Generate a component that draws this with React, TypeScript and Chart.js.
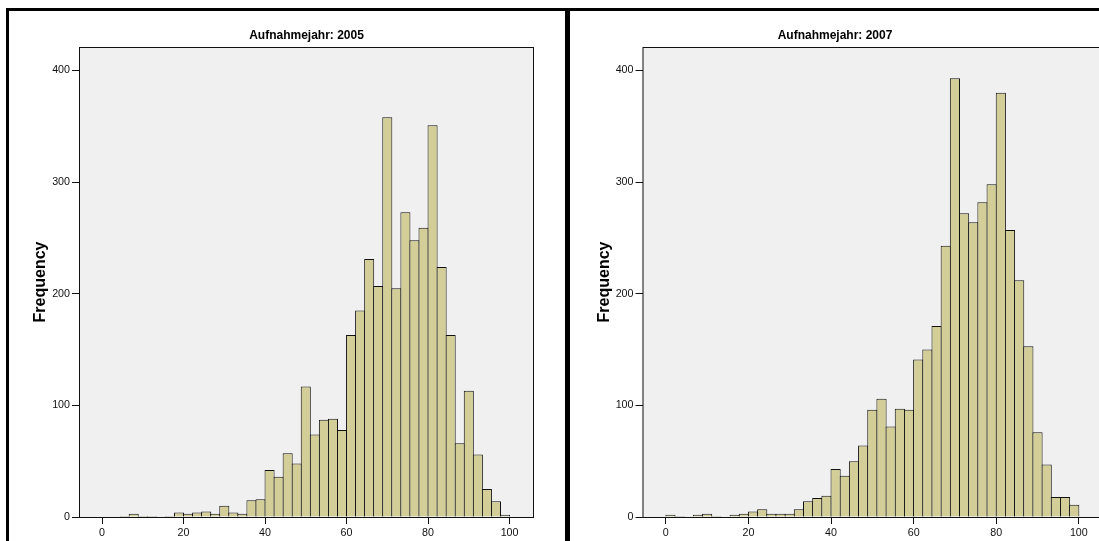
import React, { useEffect, useRef } from 'react';
import { Chart, registerables } from 'chart.js';

Chart.register(...registerables);

// ---- data -------------------------------------------------------------
const BIN_WIDTH = 100 / 45; // 45 equal bins between 0 and 100
const binCenters: number[] = Array.from({ length: 45 }, (_, i) => (i + 0.5) * BIN_WIDTH);

const counts2005: number[] = [
  0, 0, 1, 3, 1, 1, 0, 1, 4, 3,
  4, 5, 3, 10, 4, 3, 15, 16, 42, 36,
  57, 48, 117, 74, 87, 88, 78, 163, 185, 231,
  207, 358, 205, 273, 248, 259, 351, 224, 163, 66,
  113, 56, 25, 14, 2,
];

const counts2007: number[] = [
  2, 1, 0, 2, 3, 1, 0, 2, 3, 5,
  7, 3, 3, 3, 7, 14, 17, 19, 43, 37,
  50, 64, 96, 106, 81, 97, 96, 141, 150, 171,
  243, 393, 272, 264, 282, 298, 380, 257, 212, 153,
  76, 47, 18, 18, 11,
];

const xTickValues: number[] = [0, 20, 40, 60, 80, 100];
const yTickValues: number[] = [0, 100, 200, 300, 400];
const panelTitles: string[] = ['Aufnahmejahr: 2005', 'Aufnahmejahr: 2007'];
const yAxisTitle = 'Frequency';

// ---- styles -------------------------------------------------------------
const X_MIN = -5.65;
const X_MAX = 106;
const Y_MAX = 421;
const FONT = "'Liberation Sans', Arial, Helvetica, sans-serif";
const BAR_FILL = '#D3CE98';
const PLOT_BG = '#F0F0F0';

type PanelProps = {
  title: string;
  counts: number[];
  canvasLeft: number;
  canvasWidth: number;
  yAxisWidth: number;
  padRight: number;
  barPct: number;
  yTitleX: number;
  titleX?: number;
};

function HistPanel(props: PanelProps) {
  const ref = useRef<HTMLCanvasElement | null>(null);
  useEffect(() => {
    const canvas = ref.current;
    if (!canvas) return;
    const decor = {
      id: 'panelDecor',
      beforeDraw(chart: any) {
        const { ctx, chartArea } = chart;
        ctx.save();
        ctx.fillStyle = PLOT_BG;
        ctx.fillRect(chartArea.left, chartArea.top, chartArea.right - chartArea.left, chartArea.bottom - chartArea.top);
        ctx.restore();
      },
      afterDatasetsDraw(chart: any) {
        const { ctx, chartArea } = chart;
        ctx.save();
        ctx.strokeStyle = '#111';
        ctx.lineWidth = 1;
        ctx.strokeRect(chartArea.left + 0.5, chartArea.top + 0.5, chartArea.right - chartArea.left - 1, chartArea.bottom - chartArea.top);
        ctx.restore();
      },
      afterDraw(chart: any) {
        const { ctx, chartArea } = chart;
        ctx.save();
        ctx.fillStyle = '#000';
        ctx.font = `bold 12px ${FONT}`;
        ctx.textAlign = 'center';
        ctx.textBaseline = 'alphabetic';
        const tx = props.titleX !== undefined ? props.titleX : (chartArea.left + chartArea.right) / 2;
        ctx.fillText(props.title, tx, 39);
        ctx.translate(props.yTitleX, (chartArea.top + chartArea.bottom) / 2);
        ctx.rotate(-Math.PI / 2);
        ctx.font = `bold 16px ${FONT}`;
        ctx.fillText(yAxisTitle, 0, 0);
        ctx.restore();
      },
    };
    const chart = new Chart(canvas, {
      type: 'bar',
      data: {
        datasets: [
          {
            data: props.counts.map((c, i) => ({ x: binCenters[i], y: c })),
            backgroundColor: BAR_FILL,
            borderColor: '#111',
            borderWidth: 1,
            barPercentage: props.barPct,
            categoryPercentage: 1,
            grouped: false,
          } as any,
        ],
      },
      options: {
        responsive: false,
        maintainAspectRatio: false,
        animation: false,
        devicePixelRatio: 1,
        layout: { padding: { left: 0, top: 47, right: props.padRight, bottom: 0 } },
        plugins: {
          legend: { display: false },
          tooltip: { enabled: false },
          title: { display: false },
        },
        scales: {
          x: {
            type: 'linear',
            min: X_MIN,
            max: X_MAX,
            offset: false,
            afterBuildTicks: (s: any) => {
              s.ticks = xTickValues.map((v) => ({ value: v }));
            },
            afterFit: (s: any) => {
              s.height = 24;
            },
            grid: { offset: false, drawOnChartArea: false, drawTicks: true, tickLength: 7, color: '#111', lineWidth: 1 },
            border: { display: false },
            ticks: {
              color: '#111',
              font: { family: FONT, size: 10.7 },
              padding: 3,
              maxRotation: 0,
              autoSkip: false,
              callback: (v: any) => String(v),
            },
          },
          y: {
            type: 'linear',
            min: 0,
            max: Y_MAX,
            afterBuildTicks: (s: any) => {
              s.ticks = yTickValues.map((v) => ({ value: v }));
            },
            afterFit: (s: any) => {
              s.width = props.yAxisWidth;
            },
            grid: { drawOnChartArea: false, drawTicks: true, tickLength: 7, color: '#111', lineWidth: 1 },
            border: { display: false },
            ticks: {
              color: '#111',
              font: { family: FONT, size: 10.7 },
              padding: 2,
              callback: (v: any) => String(v),
            },
          },
        },
      } as any,
      plugins: [decor],
    });
    return () => chart.destroy();
  }, []);
  return (
    <canvas
      ref={ref}
      width={props.canvasWidth}
      height={541}
      style={{ position: 'absolute', left: props.canvasLeft, top: 0, width: props.canvasWidth, height: 541 }}
    />
  );
}

export default function App() {
  return (
    <div
      style={{
        position: 'fixed',
        left: 0,
        top: 0,
        width: 1099,
        height: 541,
        overflow: 'hidden',
        background: '#fff',
      }}
    >
      <HistPanel
        title={panelTitles[0]}
        counts={counts2005}
        canvasLeft={0}
        canvasWidth={565}
        yAxisWidth={79}
        padRight={31}
        barPct={1.11}
        yTitleX={45}
      />
      <HistPanel
        title={panelTitles[1]}
        counts={counts2007}
        canvasLeft={570}
        canvasWidth={540}
        yAxisWidth={72.5}
        padRight={6.4}
        barPct={1.109}
        yTitleX={38.5}
        titleX={265}
      />
      <div style={{ position: 'absolute', left: 6, top: 8, width: 3, height: 533, background: '#000' }} />
      <div style={{ position: 'absolute', left: 6, top: 8, width: 1093, height: 3, background: '#000' }} />
      <div style={{ position: 'absolute', left: 565, top: 8, width: 5, height: 533, background: '#000' }} />
    </div>
  );
}
